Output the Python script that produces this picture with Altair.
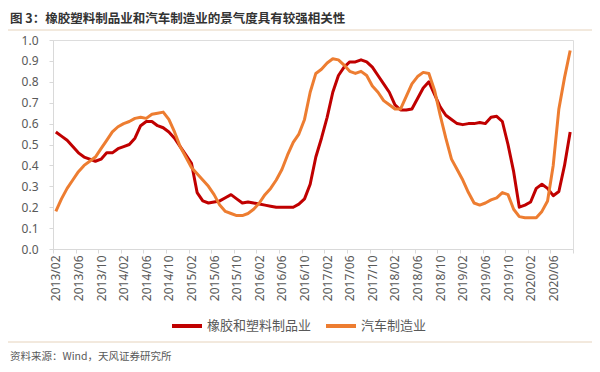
import json
import altair as alt
import pandas as pd

# ---------------- data ----------------
title_text = "图 3：橡胶塑料制品业和汽车制造业的景气度具有较强相关性"
source_text = "资料来源：Wind，天风证券研究所"
series_names = ["橡胶和塑料制品业", "汽车制造业"]
series_colors = ["#C00000", "#ED7D31"]

tick_labels = [
    "2013/02", "2013/06", "2013/10", "2014/02", "2014/06", "2014/10",
    "2015/02", "2015/06", "2015/10", "2016/02", "2016/06", "2016/10",
    "2017/02", "2017/06", "2017/10", "2018/02", "2018/06", "2018/10",
    "2019/02", "2019/06", "2019/10", "2020/02", "2020/06",
]

rubber = [
    0.56, 0.54, 0.52, 0.49, 0.46, 0.44, 0.43, 0.42, 0.43, 0.46,
    0.46, 0.48, 0.49, 0.50, 0.53, 0.59, 0.61, 0.61, 0.59, 0.58,
    0.56, 0.53, 0.49, 0.45, 0.41, 0.27, 0.23, 0.22, 0.225, 0.23,
    0.245, 0.26, 0.24, 0.22, 0.225, 0.22, 0.215, 0.21, 0.205, 0.20,
    0.20, 0.20, 0.20, 0.215, 0.24, 0.31, 0.44, 0.53, 0.63, 0.75,
    0.83, 0.87, 0.895, 0.895, 0.905, 0.895, 0.87, 0.83, 0.79, 0.75,
    0.69, 0.665, 0.665, 0.67, 0.72, 0.77, 0.80, 0.74, 0.68, 0.64,
    0.62, 0.60, 0.595, 0.60, 0.60, 0.605, 0.60, 0.63, 0.635, 0.61,
    0.50, 0.37, 0.20, 0.21, 0.225, 0.29, 0.31, 0.29, 0.255, 0.275,
    0.40, 0.56,
]

auto = [
    0.18, 0.24, 0.29, 0.33, 0.37, 0.40, 0.42, 0.44, 0.48, 0.52,
    0.56, 0.585, 0.60, 0.61, 0.625, 0.63, 0.625, 0.645, 0.65, 0.655,
    0.62, 0.56, 0.49, 0.44, 0.39, 0.36, 0.33, 0.30, 0.26, 0.21,
    0.18, 0.17, 0.16, 0.16, 0.17, 0.19, 0.22, 0.26, 0.29, 0.33,
    0.38, 0.45, 0.51, 0.55, 0.62, 0.75, 0.84, 0.86, 0.89, 0.91,
    0.905, 0.88, 0.85, 0.84, 0.85, 0.83, 0.78, 0.75, 0.71, 0.69,
    0.67, 0.67, 0.73, 0.79, 0.825, 0.845, 0.84, 0.76, 0.64, 0.53,
    0.43, 0.38, 0.33, 0.27, 0.22, 0.21, 0.22, 0.235, 0.245, 0.27,
    0.26, 0.19, 0.155, 0.15, 0.15, 0.15, 0.18, 0.23, 0.40, 0.67,
    0.82, 0.95,
]

n = len(rubber)
rows = []
for i in range(n):
    rows.append({"pos": i + 0.5, "value": rubber[i], "series": series_names[0]})
    rows.append({"pos": i + 0.5, "value": auto[i], "series": series_names[1]})
df = pd.DataFrame(rows)

W, H = 520, 209
FONT = "Noto Sans CJK SC"
NUMFONT = "Noto Sans"
half_step = W / n / 2

label_expr = "datum.value < %d ? %s[round(datum.value / 4)] : ''" % (n, json.dumps(tick_labels))

lines = alt.Chart(df).mark_line(strokeWidth=3, strokeJoin="round").encode(
    x=alt.X(
        "pos:Q",
        scale=alt.Scale(domain=[0, n], nice=False, zero=False),
        axis=alt.Axis(
            values=list(range(0, n + 1, 4)),
            labelExpr=label_expr,
            labelAngle=270,
            labelOffset=half_step,
            labelFont=NUMFONT,
            labelFontSize=12,
            labelColor="#595959",
            labelPadding=2,
            tickSize=4,
            tickColor="#D9D9D9",
            domainColor="#D9D9D9",
            grid=False,
            title=None,
            labelOverlap=False,
        ),
    ),
    y=alt.Y(
        "value:Q",
        scale=alt.Scale(domain=[0, 1], nice=False),
        axis=alt.Axis(
            values=[i / 10 for i in range(11)],
            format=".1f",
            labelFont=NUMFONT,
            labelFontSize=12,
            labelColor="#595959",
            labelPadding=11,
            tickSize=4,
            tickColor="#D9D9D9",
            domainColor="#D9D9D9",
            grid=False,
            title=None,
        ),
    ),
    color=alt.Color(
        "series:N",
        scale=alt.Scale(domain=series_names, range=series_colors),
        sort=series_names,
        legend=alt.Legend(
            orient="none",
            legendX=117,
            legendY=269,
            direction="horizontal",
            title=None,
            symbolType="stroke",
            symbolSize=900,
            symbolStrokeWidth=4,
            labelFont=FONT,
            labelFontSize=13,
            labelColor="#595959",
            labelOffset=3,
            columnPadding=6,
        ),
    ),
    order="pos:Q",
)

text_df = pd.DataFrame({"t": [source_text]})
source = alt.Chart(text_df).mark_text(
    align="left", baseline="middle", font=FONT, fontSize=10.5, color="#595959"
).encode(x=alt.value(-43), y=alt.value(317), text="t:N")

rule_top = alt.Chart(text_df).mark_rule(color="#E6D3BC", strokeWidth=1).encode(
    x=alt.value(-51), x2=alt.value(545), y=alt.value(-10)
)
rule_bot = alt.Chart(text_df).mark_rule(color="#E6D3BC", strokeWidth=1).encode(
    x=alt.value(-51), x2=alt.value(545), y=alt.value(302)
)

chart = alt.layer(lines, source, rule_top, rule_bot).properties(
    width=W,
    height=H,
    autosize=alt.AutoSizeParams(type="none"),
    padding={"left": 45, "top": 32, "right": 19, "bottom": 115},
    title=alt.TitleParams(
        title_text,
        anchor="start",
        frame="group",
        orient="top",
        dx=-43,
        offset=4,
        font=FONT,
        fontSize=12.5,
        fontWeight="bold",
        color="#333333",
    ),
).configure_view(stroke=None).configure(background="white")

chart.save("out.html", embed_options={"renderer": "svg", "actions": False})
